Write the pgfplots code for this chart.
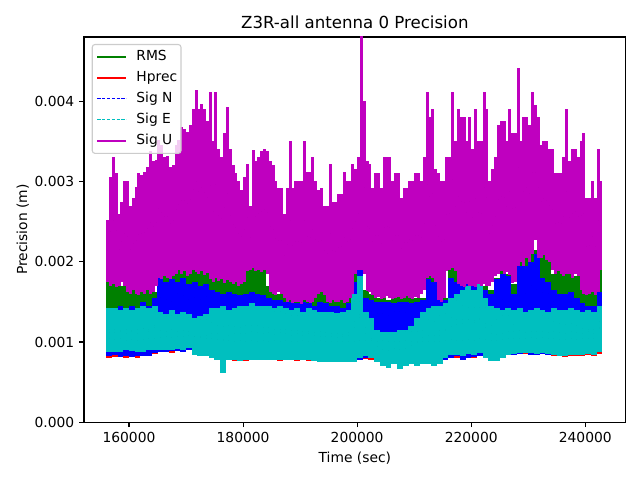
\documentclass[border=0pt]{standalone}
\usepackage{fontspec}
\setmainfont{DejaVu Sans}
\usepackage{pgfplots}
\pgfplotsset{compat=1.18}
\usepackage{pgfplotstable}

\definecolor{cg}{rgb}{0,0.5,0}
\definecolor{cr}{rgb}{1,0,0}
\definecolor{cb}{rgb}{0,0,1}
\definecolor{cc}{rgb}{0,0.75,0.75}
\definecolor{cm}{rgb}{0.75,0,0.75}

% Sig U envelope per 500 s (values in mm)
\pgfplotstableread{
t ulo uhi
156250 1.75 2.52
156750 1.70 3.05
157250 1.72 3.31
157750 1.68 3.10
158250 1.70 2.60
158750 1.75 2.75
159250 1.70 3.00
159750 1.62 3.01
160250 1.60 2.70
160750 1.65 2.80
161250 1.60 2.93
161750 1.58 3.10
162250 1.62 3.08
162750 1.60 3.12
163250 1.65 3.18
163750 1.60 3.38
164250 1.62 3.25
164750 1.70 3.27
165250 1.80 3.52
165750 1.78 3.45
166250 1.82 3.30
166750 1.80 3.32
167250 1.78 3.18
167750 1.82 3.20
168250 1.85 3.45
168750 1.90 3.52
169250 1.85 3.68
169750 1.88 3.65
170250 1.82 3.62
170750 1.85 3.70
171250 1.90 3.90
171750 1.87 4.14
172250 1.85 3.90
172750 1.88 3.97
173250 1.83 3.90
173750 1.86 3.75
174250 1.78 4.12
174750 1.75 3.50
175250 1.80 4.12
175750 1.76 3.40
176250 1.78 3.30
176750 1.74 3.60
177250 1.77 3.93
177750 1.75 3.40
178250 1.72 3.20
178750 1.75 3.10
179250 1.70 3.00
179750 1.72 2.90
180250 1.75 3.05
180750 1.88 3.22
181250 1.90 2.70
181750 1.92 3.39
182250 1.88 3.25
182750 1.90 3.30
183250 1.87 3.38
183750 1.90 3.41
184250 1.85 3.38
184750 1.62 3.25
185250 1.60 3.20
185750 1.58 3.01
186250 1.62 2.92
186750 1.60 2.92
187250 1.55 2.60
187750 1.50 2.92
188250 1.52 3.51
188750 1.48 2.92
189250 1.50 3.01
189750 1.50 3.01
190250 1.47 3.01
190750 1.52 3.51
191250 1.50 3.12
191750 1.48 3.12
192250 1.50 3.30
192750 1.55 3.00
193250 1.60 2.90
193750 1.62 2.92
194250 1.58 2.70
194750 1.50 2.70
195250 1.48 3.22
195750 1.52 2.75
196250 1.50 2.75
196750 1.50 2.85
197250 1.52 2.85
197750 1.48 3.12
198250 1.50 3.00
198750 1.55 3.00
199250 1.60 3.22
199750 1.85 3.15
200250 1.90 3.30
200750 1.90 4.85
201250 1.85 4.00
201750 1.63 3.25
202250 1.62 3.22
202750 1.58 2.92
203250 1.55 3.10
203750 1.56 3.10
204250 1.53 2.92
204750 1.55 3.30
205250 1.57 3.30
205750 1.55 3.30
206250 1.53 3.00
206750 1.55 3.10
207250 1.56 3.10
207750 1.54 2.80
208250 1.55 2.92
208750 1.57 2.92
209250 1.55 3.00
209750 1.54 3.00
210250 1.56 3.10
210750 1.55 3.10
211250 1.60 3.00
211750 1.65 3.30
212250 1.80 4.12
212750 1.82 3.80
213250 1.80 3.90
213750 1.75 3.15
214250 1.52 3.10
214750 1.50 3.00
215250 1.55 3.00
215750 1.88 3.30
216250 1.90 3.30
216750 1.92 4.12
217250 1.88 3.50
217750 1.72 3.90
218250 1.70 3.80
218750 1.68 3.80
219250 1.72 3.50
219750 1.70 3.80
220250 1.70 3.40
220750 1.68 3.90
221250 1.72 3.50
221750 1.70 3.50
222250 1.72 4.12
222750 1.70 3.90
223250 1.70 3.00
223750 1.75 3.15
224250 1.82 3.30
224750 1.85 3.70
225250 1.88 3.75
225750 1.85 3.75
226250 1.87 3.50
226750 1.84 3.90
227250 1.73 3.60
227750 1.75 3.60
228250 1.95 4.41
228750 2.00 3.50
229250 1.95 3.80
229750 2.05 3.80
230250 2.00 3.70
230750 2.10 4.12
231250 2.27 3.95
231750 2.05 3.80
232250 2.05 3.45
232750 2.08 3.50
233250 2.02 3.50
233750 2.00 3.40
234250 1.90 3.40
234750 1.85 3.10
235250 1.88 3.10
235750 1.85 3.10
236250 1.82 3.30
236750 1.85 3.90
237250 1.85 3.25
237750 1.80 3.40
238250 1.85 3.40
238750 1.82 3.30
239250 1.65 3.50
239750 1.60 3.60
240250 1.58 2.80
240750 1.60 2.80
241250 1.62 3.00
241750 1.58 2.80
242250 1.62 3.40
242750 1.90 3.00
}\tabU

% RMS, Hprec, Sig N, Sig E envelopes per 1000 s (values in mm)
\pgfplotstableread{
t rlo rhi hlo hhi nlo nhi elo ehi
156500 1.15 1.78 0.80 1.30 0.82 1.42 0.88 1.42
157500 1.15 1.80 0.81 1.25 0.84 1.40 0.88 1.42
158500 1.15 1.70 0.83 1.25 0.81 1.45 0.88 1.40
159500 1.15 1.75 0.80 1.25 0.83 1.38 0.90 1.42
160500 1.15 1.68 0.82 1.25 0.81 1.45 0.89 1.40
161500 1.15 1.70 0.80 1.25 0.82 1.40 0.88 1.42
162500 1.15 1.65 0.82 1.25 0.83 1.50 0.88 1.45
163500 1.15 1.70 0.84 1.25 0.82 1.45 0.90 1.42
164500 1.15 1.62 0.85 1.25 0.86 1.55 0.90 1.45
165500 1.15 1.95 0.87 1.25 0.88 1.80 0.90 1.38
166500 1.15 1.90 0.88 1.25 0.88 1.75 0.90 1.35
167500 1.15 1.85 0.86 1.25 0.89 1.78 0.90 1.40
168500 1.15 2.05 0.89 1.25 0.89 1.75 0.91 1.35
169500 1.15 2.00 0.88 1.25 0.88 1.80 0.90 1.38
170500 1.15 1.90 0.90 1.25 0.90 1.72 0.92 1.35
171500 1.15 1.95 0.88 1.25 0.86 1.75 0.84 1.30
172500 1.15 1.92 0.86 1.25 0.85 1.70 0.82 1.32
173500 1.15 1.98 0.85 1.25 0.84 1.72 0.82 1.35
174500 1.15 1.95 0.83 1.25 0.84 1.65 0.80 1.42
175500 1.15 1.85 0.81 1.25 0.80 1.62 0.78 1.42
176500 1.15 1.80 0.80 1.25 0.79 1.60 0.62 1.45
177500 1.15 1.78 0.78 1.25 0.80 1.62 0.77 1.40
178500 1.15 1.75 0.76 1.25 0.79 1.60 0.78 1.42
179500 1.15 1.80 0.78 1.25 0.77 1.58 0.76 1.45
180500 1.15 1.90 0.76 1.25 0.80 1.60 0.77 1.45
181500 1.15 1.92 0.80 1.25 0.79 1.62 0.78 1.48
182500 1.15 1.95 0.77 1.25 0.80 1.60 0.78 1.45
183500 1.15 1.90 0.78 1.25 0.78 1.58 0.77 1.45
184500 1.15 1.70 0.77 1.25 0.80 1.55 0.78 1.45
185500 1.15 1.62 0.79 1.25 0.78 1.52 0.77 1.42
186500 1.15 1.60 0.76 1.25 0.79 1.52 0.78 1.45
187500 1.15 1.55 0.78 1.25 0.80 1.50 0.78 1.42
188500 1.15 1.52 0.77 1.25 0.78 1.50 0.77 1.40
189500 1.15 1.50 0.76 1.25 0.80 1.48 0.78 1.42
190500 1.15 1.52 0.78 1.25 0.77 1.50 0.77 1.38
191500 1.15 1.50 0.76 1.25 0.79 1.48 0.78 1.42
192500 1.15 1.60 0.77 1.25 0.78 1.45 0.76 1.40
193500 1.15 1.72 0.78 1.25 0.77 1.50 0.75 1.38
194500 1.15 1.70 0.77 1.25 0.76 1.48 0.75 1.38
195500 1.15 1.55 0.76 1.25 0.77 1.45 0.75 1.38
196500 1.15 1.52 0.77 1.25 0.76 1.45 0.75 1.36
197500 1.15 1.55 0.76 1.25 0.77 1.42 0.75 1.38
198500 1.15 1.58 0.77 1.25 0.76 1.48 0.75 1.40
199500 1.15 1.85 0.76 1.25 0.77 1.75 0.75 1.60
200500 1.15 1.85 0.80 1.25 0.78 1.90 0.80 1.82
201500 1.15 1.65 0.79 1.25 0.80 1.55 0.82 1.38
202500 1.15 1.60 0.78 1.25 0.80 1.52 0.80 1.30
203500 1.15 1.55 0.77 1.25 0.78 1.50 0.75 1.15
204500 1.15 1.55 0.78 1.25 0.76 1.50 0.70 1.12
205500 1.15 1.52 0.77 1.25 0.76 1.50 0.68 1.12
206500 1.15 1.60 0.76 1.25 0.77 1.48 0.72 1.12
207500 1.15 1.62 0.77 1.25 0.76 1.50 0.66 1.15
208500 1.15 1.58 0.78 1.25 0.76 1.50 0.70 1.15
209500 1.15 1.62 0.76 1.25 0.77 1.48 0.72 1.20
210500 1.15 1.55 0.77 1.25 0.76 1.50 0.70 1.30
211500 1.15 1.55 0.77 1.25 0.76 1.52 0.73 1.38
212500 1.15 1.85 0.76 1.25 0.77 1.78 0.73 1.42
213500 1.15 1.82 0.77 1.25 0.76 1.75 0.70 1.45
214500 1.15 1.50 0.76 1.25 0.77 1.52 0.72 1.45
215500 1.15 1.55 0.79 1.25 0.78 1.52 0.80 1.48
216500 1.15 1.92 0.82 1.25 0.80 1.80 0.84 1.55
217500 1.15 1.88 0.80 1.25 0.82 1.75 0.84 1.60
218500 1.15 1.75 0.80 1.25 0.77 1.78 0.82 1.65
219500 1.15 1.72 0.82 1.25 0.80 1.75 0.85 1.70
220500 1.15 1.70 0.80 1.25 0.81 1.72 0.84 1.65
221500 1.15 1.72 0.83 1.25 0.82 1.75 0.86 1.72
222500 1.15 1.70 0.81 1.25 0.82 1.65 0.80 1.55
223500 1.15 1.65 0.80 1.25 0.80 1.60 0.76 1.45
224500 1.15 1.80 0.80 1.25 0.79 1.78 0.76 1.42
225500 1.15 1.90 0.81 1.25 0.82 1.85 0.80 1.40
226500 1.15 1.85 0.84 1.25 0.85 1.82 0.84 1.42
227500 1.15 1.72 0.85 1.25 0.84 1.60 0.85 1.40
228500 1.15 2.00 0.85 1.25 0.85 1.95 0.86 1.42
229500 1.15 2.05 0.85 1.25 0.86 1.95 0.86 1.38
230500 1.15 2.27 0.86 1.25 0.84 2.00 0.86 1.40
231500 1.15 2.15 0.85 1.25 0.84 2.10 0.85 1.42
232500 1.15 2.08 0.86 1.25 0.85 1.80 0.86 1.40
233500 1.15 2.05 0.84 1.25 0.84 1.75 0.85 1.38
234500 1.15 1.85 0.83 1.25 0.86 1.65 0.84 1.42
235500 1.15 1.88 0.82 1.25 0.85 1.60 0.83 1.40
236500 1.15 1.90 0.81 1.25 0.84 1.60 0.82 1.40
237500 1.15 1.85 0.83 1.25 0.85 1.62 0.84 1.42
238500 1.15 1.82 0.82 1.25 0.86 1.55 0.84 1.40
239500 1.15 1.68 0.83 1.25 0.85 1.48 0.84 1.38
240500 1.15 1.65 0.84 1.25 0.86 1.45 0.85 1.40
241500 1.15 1.62 0.83 1.25 0.85 1.45 0.84 1.38
242500 1.15 1.97 0.85 1.52 0.88 1.62 0.88 1.45
}\tabL

\pgfplotsset{
  bandplot/.style 2 args={only marks, mark=*, mark size=0pt,
    mark options={draw=none, fill=none}, forget plot,
    error bars/.cd, y dir=both, y explicit, error mark=none,
    error bar style={line width=#1, color=#2}},
}

\begin{document}
\begin{tikzpicture}
\begin{axis}[
  scale only axis, width=390bp, height=277.4bp,
  xmin=152110, xmax=247084, ymin=0, ymax=0.0048,
  xtick={160000,180000,200000,220000,240000},
  ytick={0,0.001,0.002,0.003,0.004},
  scaled x ticks=false, scaled y ticks=false,
  /pgf/number format/assume math mode=true,
  xticklabel style={/pgf/number format/.cd, fixed, set thousands separator={}},
  yticklabel style={/pgf/number format/.cd, fixed, fixed zerofill, precision=3},
  tick align=outside, tick pos=left,
  major tick length=3.5bp,
  every tick/.style={black, line width=0.8bp},
  axis line style={line width=0.8bp},
  tick label style={font=\fontsize{10}{12}\selectfont},
  label style={font=\fontsize{10}{12}\selectfont},
  title={Z3R-all antenna 0 Precision},
  every axis title shift=0pt,
  title style={font=\fontsize{12}{14}\selectfont, at={(axis description cs:0.5,1.0227)}, anchor=base, yshift=0pt},
  xlabel={Time (sec)}, ylabel={Precision (m)},
  xlabel style={at={(axis description cs:0.5,-0.1049)}, anchor=base},
  ylabel style={at={(axis description cs:-0.105,0.5)}, anchor=base},
  legend cell align=left,
  legend style={at={(0.0142,0.982)}, anchor=north west, draw=black!20, line width=0.8bp,
    fill=white, fill opacity=0.8, text opacity=1, rounded corners=2bp, inner xsep=2.8bp, inner ysep=4bp,
    row sep=5.1bp, column sep=0bp, font=\fontsize{10}{12}\selectfont,
    nodes={inner sep=0bp, text height=7.6bp, text depth=2.4bp}},
  legend image code/.code={\draw[#1] (0bp,0bp) -- (21bp,0bp); \path (27.5bp,0bp);},
]
\addlegendimage{color=cg, line width=1.5bp}
\addlegendentry{RMS}
\addlegendimage{color=cr, line width=1.5bp}
\addlegendentry{Hprec}
\addlegendimage{color=cb, line width=0.7bp, dash pattern=on 2.4bp off 1.1bp}
\addlegendentry{Sig N}
\addlegendimage{color=cc, line width=0.7bp, dash pattern=on 2.4bp off 1.1bp}
\addlegendentry{Sig E}
\addlegendimage{color=cm, line width=1.5bp}
\addlegendentry{Sig U}

\addplot[bandplot={4.2bp}{cg}]
  table[x=t, y expr=(\thisrow{rlo}+\thisrow{rhi})/2000, y error expr=(\thisrow{rhi}-\thisrow{rlo})/2000] {\tabL};
\addplot[bandplot={4.2bp}{cr}]
  table[x=t, y expr=(\thisrow{hlo}+\thisrow{hhi})/2000, y error expr=(\thisrow{hhi}-\thisrow{hlo})/2000] {\tabL};
\addplot[bandplot={4.2bp}{cb}]
  table[x=t, y expr=(\thisrow{nlo}+\thisrow{nhi})/2000, y error expr=(\thisrow{nhi}-\thisrow{nlo})/2000] {\tabL};
\addplot[bandplot={4.2bp}{cc}]
  table[x=t, y expr=(\thisrow{elo}+\thisrow{ehi})/2000, y error expr=(\thisrow{ehi}-\thisrow{elo})/2000] {\tabL};
\addplot[bandplot={2.15bp}{cm}]
  table[x=t, y expr=(\thisrow{ulo}+\thisrow{uhi})/2000, y error expr=(\thisrow{uhi}-\thisrow{ulo})/2000] {\tabU};
\end{axis}
\pgfresetboundingbox
\useasboundingbox ([xshift=-60.48bp,yshift=-41.54bp]current axis.south west) rectangle ([xshift=10.3bp,yshift=26.64bp]current axis.north east);
\end{tikzpicture}
\end{document}
